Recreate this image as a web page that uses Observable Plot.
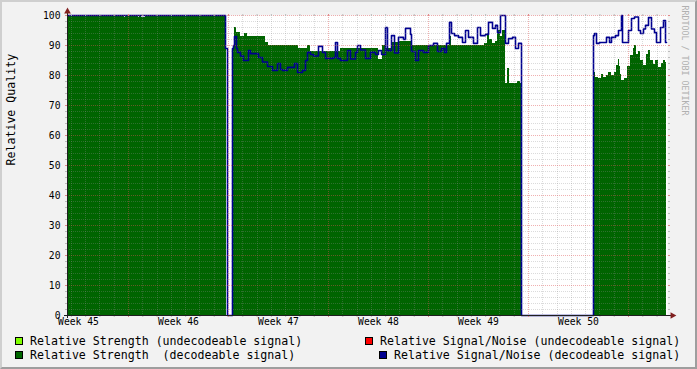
<!DOCTYPE html>
<html><head><meta charset="utf-8">
<script src="https://cdn.jsdelivr.net/npm/d3@7"></script>
<script src="https://cdn.jsdelivr.net/npm/@observablehq/plot@0.6"></script>
<style>
html,body{margin:0;padding:0;background:#f2f2f2;}
#wrap{position:relative;width:697px;height:369px;overflow:hidden;background:#f2f2f2;}
#frame{position:absolute;left:0;top:0;width:697px;height:369px;box-sizing:border-box;border-top:2px solid #cfcfcf;border-left:2px solid #cfcfcf;border-right:2px solid #9e9e9e;border-bottom:2px solid #9e9e9e;pointer-events:none;}
svg{display:block}
</style></head><body><div id="wrap"><div id="frame"></div></div>
<script>
// ---- data (time in days since start of chart) ----
const strengthDays = [0.00,3.99,4.06,4.97,5.04,5.18,5.46,11.13,11.62,11.69,11.83,12.11,12.39,12.60,13.86,14.07,16.17,16.80,17.01,19.11,21.77,22.05,22.33,22.68,23.17,24.08,26.74,26.88,29.19,29.40,29.54,29.75,29.96,30.10,30.31,30.45,30.66,30.80,30.94,31.50,31.71,31.78,36.82,36.89,36.96,37.17,37.38,37.52,37.73,37.87,38.08,38.29,38.43,38.57,38.64,38.71,38.78,38.99,39.20,39.41,39.62,39.69,39.83,39.97,40.11,40.32,40.53,40.67,40.81,41.02,41.16,41.37,41.58,41.72,41.86,41.93];
const strengthVals = [100,99.5,100,99.5,100,99.5,100,0,90,96,94.5,93,94,93,91,90,89,90,88,89,85.5,90,89,91,91.5,90,93,90,90.7,94,92,90.7,91.5,95,93,95,77.5,82.5,77.5,78,77.5,0,79.3,81,79.3,79,80.5,79.5,80,81,80,81,83.3,85.5,83,80.3,78.3,79,83,86.7,89,90,87,88,85,83.3,87,88.5,85,83.7,85,82.7,84,85,84.5,84.5];
const snrDays = [0.00,11.06,11.20,11.55,11.62,11.69,11.83,11.90,12.11,12.32,12.67,12.81,13.37,13.65,14.00,14.35,14.70,14.91,15.05,15.40,15.89,16.10,16.45,16.66,16.80,17.01,17.22,17.57,17.85,18.06,18.62,18.76,18.90,19.11,19.60,19.81,20.16,20.30,20.51,20.86,21.21,21.56,21.77,21.98,22.26,22.40,22.68,22.89,23.17,23.52,23.66,24.01,24.08,24.36,24.57,24.92,25.27,25.62,25.90,26.18,26.39,26.53,26.74,26.88,27.09,27.37,27.65,27.86,28.07,28.42,28.70,28.91,29.26,29.47,29.75,29.96,30.10,30.31,30.66,30.87,31.15,31.36,31.57,31.78,36.82,36.89,37.03,37.24,37.73,37.94,38.08,38.36,38.57,38.78,38.85,39.27,39.48,39.69,39.97,40.11,40.32,40.46,40.67,40.88,41.09,41.23,41.51,41.72,41.86,41.93];
const snrVals = [100,89,0,89,90,93,89,87.7,86.5,85,88.3,87.3,86,84.5,83,81.7,84,82,81.7,82.7,84,81,81.7,85,87.7,87,86.5,89.7,87.7,85.7,86,91,85.7,85,88.3,85.5,87.7,90,88.5,85.7,87.7,87,88.3,87,96,88.3,93.3,87.5,92.7,92,95.7,93.7,88,85,88.3,87.7,90,90.7,88,89,87.7,90.7,97.7,94,93.3,92.7,91,95,92.7,90.7,96,93.3,93.7,97.7,95.7,96.7,94.3,100,90.7,92.3,92.7,89,90.7,0,93.3,94,90.7,91,92.7,91,92.7,93.3,95,100,91,95,99,99.5,95,94,95.5,96.7,99.3,95.5,94.3,91,96,98.3,91,91];
const xDomain = [0, 42];
const yDomain = [0, 100];
const weekTicks = [0.77, 7.77, 14.77, 21.77, 28.77, 35.77];
const weekLabels = ["Week 45","Week 46","Week 47","Week 48","Week 49","Week 50"];
const yTicks = [0,10,20,30,40,50,60,70,80,90,100];
const legendLabels = [
  "Relative Strength (undecodeable signal)",
  "Relative Signal/Noise (undecodeable signal)",
  "Relative Strength  (decodeable signal)",
  "Relative Signal/Noise (decodeable signal)"
];
const legendColors = ["#80ff00", "#ff0000", "#006600", "#000090"];
const yTitle = "Relative Quality";
const watermark = "RRDTOOL / TOBI OETIKER";

// ---- derived ----
const strength = strengthDays.map((t, i) => ({t, v: strengthVals[i]}));
const snr = snrDays.map((t, i) => ({t, v: snrVals[i]}));
const gridX = d3.range(42).map(k => 0.27 + k);
const majorX = gridX.filter((d, k) => k % 7 === 4);
const minorX = gridX.filter((d, k) => k % 7 !== 4);
const majorY = yTicks;
const minorY = d3.range(2, 100, 2).filter(d => d % 10 !== 0);

const mono = "'DejaVu Sans Mono', monospace";
const GRID = "#8f8f8f", MGRID = "#de4f4f";
const blank = () => "";

const plot = Plot.plot({
  width: 697, height: 369,
  marginLeft: 67, marginRight: 30, marginTop: 15, marginBottom: 54,
  style: {background: "transparent", fontFamily: mono, overflow: "visible"},
  x: {domain: xDomain, axis: null},
  y: {domain: yDomain, axis: null},
  marks: [
    Plot.frame({fill: "white", stroke: "none"}),
    Plot.areaY(strength, {x: "t", y: "v", curve: "step-after", fill: "#006400", shapeRendering: "crispEdges"}),
    Plot.lineY(snr, {x: "t", y: "v", curve: "step-after", stroke: "#000090", strokeWidth: 1.6}),
    Plot.ruleY(minorY, {stroke: GRID, strokeOpacity: 0.32, strokeDasharray: "1,1", shapeRendering: "crispEdges"}),
    Plot.ruleX(minorX, {stroke: GRID, strokeOpacity: 0.32, strokeDasharray: "1,1", shapeRendering: "crispEdges"}),
    Plot.ruleY(majorY, {stroke: MGRID, strokeOpacity: 0.45, strokeDasharray: "1,1", shapeRendering: "crispEdges"}),
    Plot.ruleX(majorX, {stroke: MGRID, strokeOpacity: 0.45, strokeDasharray: "1,1", shapeRendering: "crispEdges"}),
    Plot.axisX(minorX, {anchor: "top", tickSize: 2, tickFormat: blank, label: null, stroke: "#bcbcbc"}),
    Plot.axisX(minorX, {anchor: "bottom", tickSize: 2, tickFormat: blank, label: null, stroke: "#bcbcbc"}),
    Plot.axisX(majorX, {anchor: "top", tickSize: 2, tickFormat: blank, label: null, stroke: "#e08a8a"}),
    Plot.axisX(majorX, {anchor: "bottom", tickSize: 2, tickFormat: blank, label: null, stroke: "#e08a8a"}),
    Plot.axisY(minorY, {anchor: "left", tickSize: 2, tickFormat: blank, label: null, stroke: "#bcbcbc"}),
    Plot.axisY(minorY, {anchor: "right", tickSize: 2, tickFormat: blank, label: null, stroke: "#bcbcbc"}),
    Plot.axisY(majorY, {anchor: "left", tickSize: 2, tickFormat: blank, label: null, stroke: "#e08a8a"}),
    Plot.axisY(majorY, {anchor: "right", tickSize: 2, tickFormat: blank, label: null, stroke: "#e08a8a"}),
    Plot.ruleX([xDomain[0]], {stroke: "#1f1f1f", insetTop: -4, insetBottom: -3}),
    Plot.ruleY([yDomain[0]], {stroke: "#1f1f1f", insetLeft: -3, insetRight: -4}),
    Plot.dot([xDomain[0]], {x: d => d, frameAnchor: "top", symbol: "triangle", r: 2.5, fill: "#801f1f", stroke: "none", dy: -4}),
    Plot.dot([yDomain[0]], {y: d => d, frameAnchor: "right", symbol: "triangle", rotate: 90, r: 2.5, fill: "#801f1f", stroke: "none", dx: 5}),
    Plot.text(yTicks, {y: d => d, text: d => String(d), frameAnchor: "left", textAnchor: "end", dx: -7, fontSize: 9.7, fill: "black"}),
    Plot.text(weekTicks, {x: d => d, text: (d, i) => weekLabels[i], frameAnchor: "bottom", dy: 9.5, fontSize: 9.7, fill: "black"}),
    Plot.text([yTitle], {text: d => d, frameAnchor: "left", rotate: -90, dx: -56, fontSize: 11.6, fill: "black"}),
    Plot.text([watermark], {text: d => d, frameAnchor: "top-right", rotate: 90, textAnchor: "start", dx: 20, dy: -10, fontSize: 8.3, fill: "#b0b0b0"})
  ]
});

// legend (drawn into the bottom margin)
const svg = d3.select(plot);
const lg = svg.append("g").attr("font-family", mono).attr("font-size", 11.6).attr("text-anchor", "start");
const pos = [
  {sx: 15, tx: 30, y: 345},
  {sx: 365, tx: 380, y: 345},
  {sx: 15, tx: 30, y: 359},
  {sx: 379, tx: 394, y: 359}
];
legendLabels.forEach((lab, i) => {
  const p = pos[i];
  lg.append("rect").attr("x", p.sx + 0.5).attr("y", p.y - 7.5).attr("width", 7).attr("height", 7)
    .attr("fill", legendColors[i]).attr("stroke", "black").attr("stroke-width", 1);
  lg.append("text").attr("x", p.tx).attr("y", p.y).attr("fill", "black").attr("text-anchor", "start")
    .style("white-space", "pre").text(lab);
});

document.getElementById("wrap").insertBefore(plot, document.getElementById("frame"));
</script>
</body></html>
